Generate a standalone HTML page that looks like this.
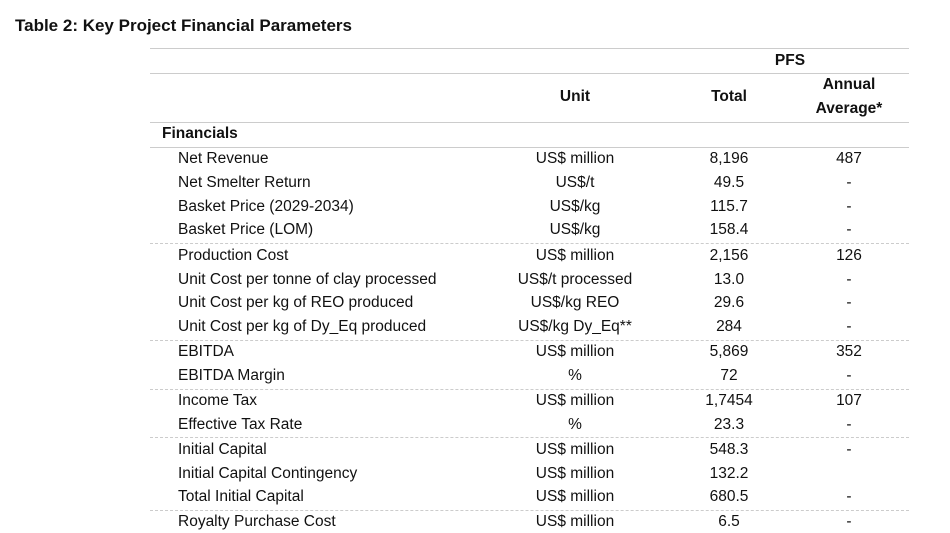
<!DOCTYPE html>
<html><head><meta charset="utf-8"><style>
body{margin:0;width:950px;height:533px;background:#fff;font-family:"Liberation Sans",sans-serif;color:#111;position:relative;overflow:hidden}
.t{position:absolute;font-size:15.5px;line-height:20px;white-space:nowrap}
.c{transform:translateX(-50%)}
.b{font-weight:bold}
.h{position:absolute;left:150px;width:759px;height:0;border-top:1px solid #ccc}
.d{position:absolute;left:150px;width:759px;height:0;border-top:1px dashed #ccc}
</style></head><body>
<div class="t b" style="left:15px;top:16px;font-size:17px">Table 2: Key Project Financial Parameters</div>
<div class="h" style="top:48px"></div>
<div class="h" style="top:73px"></div>
<div class="h" style="top:122px"></div>
<div class="h" style="top:147px"></div>
<div class="d" style="top:243px"></div>
<div class="d" style="top:340px"></div>
<div class="d" style="top:389px"></div>
<div class="d" style="top:437px"></div>
<div class="d" style="top:510px"></div>
<div class="t b c" style="left:790px;top:51px">PFS</div>
<div class="t b c" style="left:575px;top:87px">Unit</div>
<div class="t b c" style="left:729px;top:87px">Total</div>
<div class="t b c" style="left:849px;top:75px">Annual</div>
<div class="t b c" style="left:849px;top:99px">Average*</div>
<div class="t b" style="left:162px;top:124px">Financials</div>
<div id="rows"></div>
<script>
var r=[[158,"Net Revenue","US$ million","8,196","487"],[182,"Net Smelter Return","US$/t","49.5","-"],[206,"Basket Price (2029-2034)","US$/kg","115.7","-"],[229,"Basket Price (LOM)","US$/kg","158.4","-"],[255,"Production Cost","US$ million","2,156","126"],[279,"Unit Cost per tonne of clay processed","US$/t processed","13.0","-"],[302,"Unit Cost per kg of REO produced","US$/kg REO","29.6","-"],[326,"Unit Cost per kg of Dy_Eq produced","US$/kg Dy_Eq**","284","-"],[351,"EBITDA","US$ million","5,869","352"],[375,"EBITDA Margin","%","72","-"],[400,"Income Tax","US$ million","1,7454","107"],[424,"Effective Tax Rate","%","23.3","-"],[449,"Initial Capital","US$ million","548.3","-"],[473,"Initial Capital Contingency","US$ million","132.2",""],[496,"Total Initial Capital","US$ million","680.5","-"],[521,"Royalty Purchase Cost","US$ million","6.5","-"]];
var h="";r.forEach(function(a){var t=a[0]-9;h+='<div class="t" style="left:178px;top:'+t+'px">'+a[1]+'</div><div class="t c" style="left:575px;top:'+t+'px">'+a[2]+'</div><div class="t c" style="left:729px;top:'+t+'px">'+a[3]+'</div><div class="t c" style="left:849px;top:'+t+'px">'+a[4]+'</div>';});
document.getElementById("rows").innerHTML=h;
</script>
</body></html>
